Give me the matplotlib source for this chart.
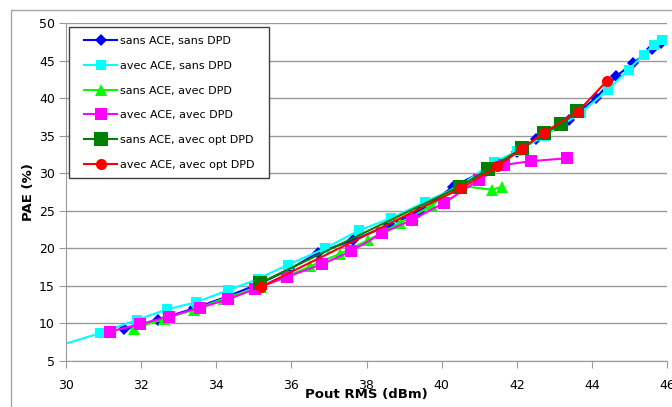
import matplotlib
matplotlib.use('Agg')
from matplotlib import pyplot as plt
from matplotlib.patches import Rectangle

# sans ACE, sans DPD
x_ss = [31.55, 32.45, 33.4, 34.3, 35.2, 35.95, 36.7, 37.65, 38.6, 39.4, 40.3, 41.4, 42.0, 42.5, 43.4, 44.1, 44.65, 45.1, 45.6, 45.85]
y_ss = [9.2, 10.5, 12.0, 13.6, 15.4, 17.2, 19.4, 21.1, 23.1, 24.9, 28.2, 31.0, 32.8, 34.5, 37.1, 40.0, 42.9, 44.7, 46.5, 47.4]

# avec ACE, sans DPD
x_as = [29.0, 30.9, 31.9, 32.7, 33.45, 34.3, 35.1, 35.9, 36.9, 37.8, 38.65, 39.57, 40.45, 41.4, 42.0, 42.72, 43.7, 44.42, 44.98, 45.38, 45.65, 45.87]
y_as = [5.8, 8.7, 10.5, 11.9, 12.8, 14.4, 15.9, 17.8, 20.0, 22.4, 24.0, 26.2, 28.2, 31.5, 32.9, 34.9, 38.0, 41.1, 43.8, 45.8, 47.1, 47.8]

# sans ACE, avec DPD
x_sa = [31.8, 32.6, 33.4, 34.2, 35.2, 35.9, 36.5, 37.3, 38.05, 38.9, 39.75, 40.4, 41.35, 41.6]
y_sa = [9.3, 10.6, 11.8, 13.3, 14.9, 16.3, 17.6, 19.3, 21.1, 23.4, 25.7, 28.4, 27.8, 28.2]

# avec ACE, avec DPD
x_aa = [31.16, 31.96, 32.73, 33.56, 34.31, 35.04, 35.88, 36.82, 37.58, 38.41, 39.21, 40.05, 40.99, 41.65, 42.37, 43.35]
y_aa = [8.9, 9.9, 10.9, 12.1, 13.2, 14.6, 16.2, 17.9, 19.6, 22.0, 23.8, 26.0, 29.1, 31.1, 31.6, 32.0]

# sans ACE, avec opt DPD
x_so = [35.17, 40.48, 41.23, 42.14, 42.72, 43.17, 43.6]
y_so = [15.4, 28.2, 30.5, 33.3, 35.3, 36.6, 38.3]

# avec ACE, avec opt DPD
x_ao = [35.2, 40.52, 41.48, 42.13, 42.72, 43.63, 44.4]
y_ao = [14.9, 28.0, 30.9, 33.2, 35.4, 38.2, 42.3]

W, H = 672, 407
fig = plt.figure(figsize=(W / 100, H / 100), dpi=100)
ax = fig.add_axes([66 / W, 1 - 361 / H, (667 - 66) / W, (361 - 23) / H])

# chart border
fig.patches.append(Rectangle((10.5 / W, -0.1), 1.2, 1 - 10.5 / H + 0.1, transform=fig.transFigure,
                             fill=False, edgecolor='#a6a6a6', linewidth=1))

lw = 1.5
ax.plot(x_ss, y_ss, color='#0000ff', lw=lw, marker='D', ms=6, mew=0, label='sans ACE, sans DPD')
ax.plot(x_as, y_as, color='#00ffff', lw=lw, marker='s', ms=7.5, mew=0, label='avec ACE, sans DPD')
ax.plot(x_sa, y_sa, color='#00ff00', lw=lw, marker='^', ms=8, mew=0, label='sans ACE, avec DPD')
ax.plot(x_aa, y_aa, color='#ff00ff', lw=lw, marker='s', ms=8.5, mew=0, label='avec ACE, avec DPD')
ax.plot(x_so, y_so, color='#008000', lw=lw, marker='s', ms=10, mew=0, label='sans ACE, avec opt DPD')
ax.plot(x_ao, y_ao, color='#ff0000', lw=lw, marker='o', ms=8, mew=0, label='avec ACE, avec opt DPD')

ax.set_xlim(30, 46)
ax.set_ylim(5, 50)
ax.set_xticks(range(30, 47, 2))
ax.set_yticks(range(5, 51, 5))
ax.grid(axis='y', color='#999999', linewidth=1)
ax.set_axisbelow(True)
for s in ['top', 'right']:
    ax.spines[s].set_visible(False)
for s in ['left', 'bottom']:
    ax.spines[s].set_color('#999999')
ax.tick_params(axis='both', direction='out', length=5, color='#999999', labelsize=9)
ax.tick_params(axis='x', pad=8)
ax.tick_params(axis='y', pad=3)

ax.set_xlabel('Pout RMS (dBm)', fontsize=9.5, fontweight='bold', labelpad=-3)
ax.set_ylabel('PAE (%)', fontsize=9.5, fontweight='bold', labelpad=3)

leg = fig.legend(loc='upper left', bbox_to_anchor=(84 / W, 1 - 36 / H), frameon=False,
                 fontsize=8, borderpad=0, borderaxespad=0, handlelength=3.0,
                 handletextpad=0.25, labelspacing=1.33, numpoints=1)
fig.patches.append(Rectangle((69 / W, 1 - 178 / H), 200 / W, 151 / H, transform=fig.transFigure,
                             fill=True, facecolor='white', edgecolor='#404040', linewidth=1, zorder=5))
leg.set_zorder(6)

fig.savefig('out.png', dpi=100)
